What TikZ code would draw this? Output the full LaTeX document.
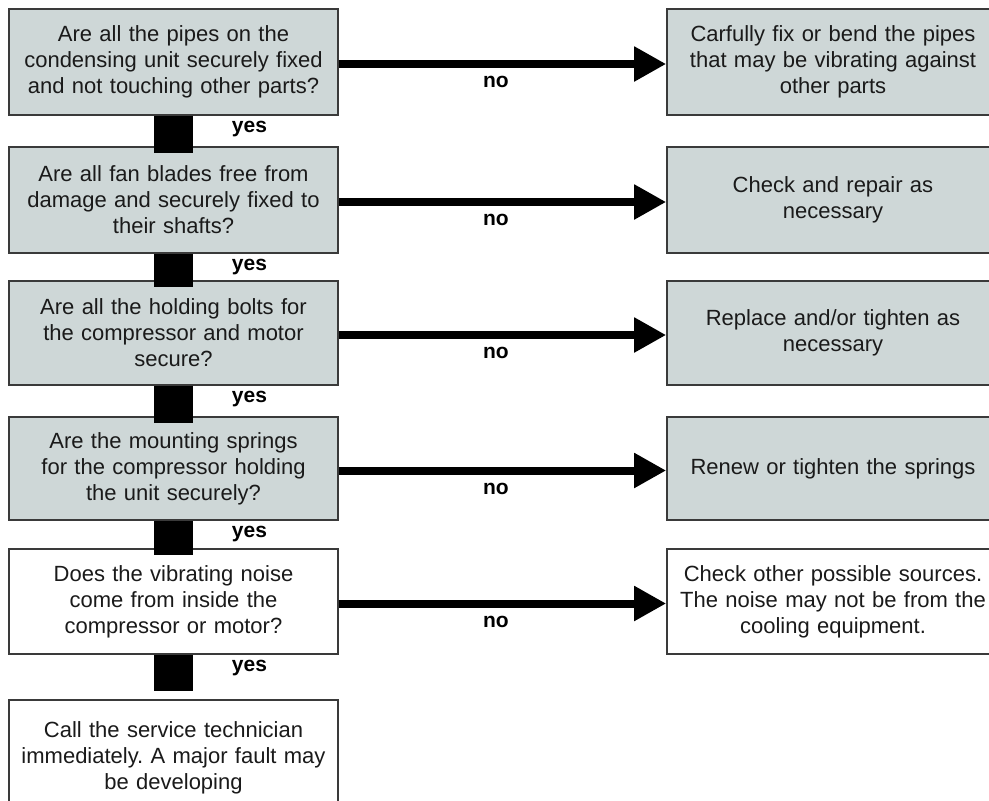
\documentclass[tikz,border=0pt]{standalone}
\usepackage{fontspec}
\setmainfont{Liberation Sans}
\usetikzlibrary{arrows.meta,calc}
\frenchspacing

\definecolor{boxfill}{RGB}{206,215,215}
\definecolor{boxline}{RGB}{58,58,58}
\definecolor{ink}{RGB}{26,26,26}

\tikzset{
  qbox/.style={draw=boxline, line width=1.6pt, rectangle, minimum width=329pt,
    text width=322pt, align=center, inner sep=3pt, text=ink,
    font=\fontsize{22}{26}\selectfont},
  abox/.style={qbox, minimum width=332pt},
  grey/.style={fill=boxfill},
  plain/.style={fill=white},
  bar/.style={line width=39pt, draw=black},
  noarrow/.style={line width=8pt, draw=black, -{Triangle[length=32pt,width=33pt]}},
  lbl/.style={font=\bfseries\fontsize{21}{24}\selectfont, text=black, inner sep=0pt}
}

\begin{document}
\begin{tikzpicture}[x=1pt, y=-1pt]
  \fill[white] (0,0) rectangle (989,801);
  \useasboundingbox (0,0) rectangle (989,801);

  % questions (left column)
  \node[qbox, grey, minimum height=106pt] (q1) at (173.5,62)
    {Are all the pipes on the\\ condensing unit securely fixed\\ and not touching other parts?};
  \node[qbox, grey, minimum height=106pt] (q2) at (173.5,200)
    {Are all fan blades free from\\ damage and securely fixed to\\ their shafts?};
  \node[qbox, grey, minimum height=104pt] (q3) at (173.5,333)
    {Are all the holding bolts for\\ the compressor and motor\\ secure?};
  \node[qbox, grey, minimum height=103pt] (q4) at (173.5,468.5)
    {Are the mounting springs\\ for the compressor holding\\ the unit securely?};
  \node[qbox, plain, minimum height=105pt] (q5) at (173.5,601.5)
    {Does the vibrating noise\\ come from inside the\\ compressor or motor?};
  \node[qbox, plain, minimum height=116pt] (q6) at (173.5,758)
    {Call the service technician\\ immediately. A major fault may\\ be developing};

  % actions (right column)
  \node[abox, grey, minimum height=106pt] (a1) at (833,62)
    {Carfully fix or bend the pipes\\ that may be vibrating against\\ other parts};
  \node[abox, grey, minimum height=106pt] (a2) at (833,200)
    {Check and repair as\\ necessary};
  \node[abox, grey, minimum height=104pt] (a3) at (833,333)
    {Replace and/or tighten as\\ necessary};
  \node[abox, grey, minimum height=103pt] (a4) at (833,468.5)
    {Renew or tighten the springs};
  \node[abox, plain, minimum height=105pt] (a5) at (833,601.5)
    {Check other possible sources.\\ The noise may not be from the\\ cooling equipment.};

  % "no" branches
  \foreach \i in {1,...,5} {
    \draw[noarrow] ([yshift=-2pt]q\i.east) -- ([yshift=-2pt]a\i.west)
      node[lbl, pos=0.48, yshift=-18pt] (no\i) {no};
  }

  % "yes" branches
  \foreach \i/\j in {1/2,2/3,3/4,4/5} {
    \draw[bar] (q\i.south) -- ([yshift=-7pt]q\j.north);
    \node[lbl] (yes\i) at ($(q\i.south)+(76,13)$) {yes};
  }
  \draw[bar] (q5.south) -- ([yshift=8pt]q6.north);
  \node[lbl] (yes5) at ($(q5.south)+(76,13)$) {yes};
\end{tikzpicture}
\end{document}
